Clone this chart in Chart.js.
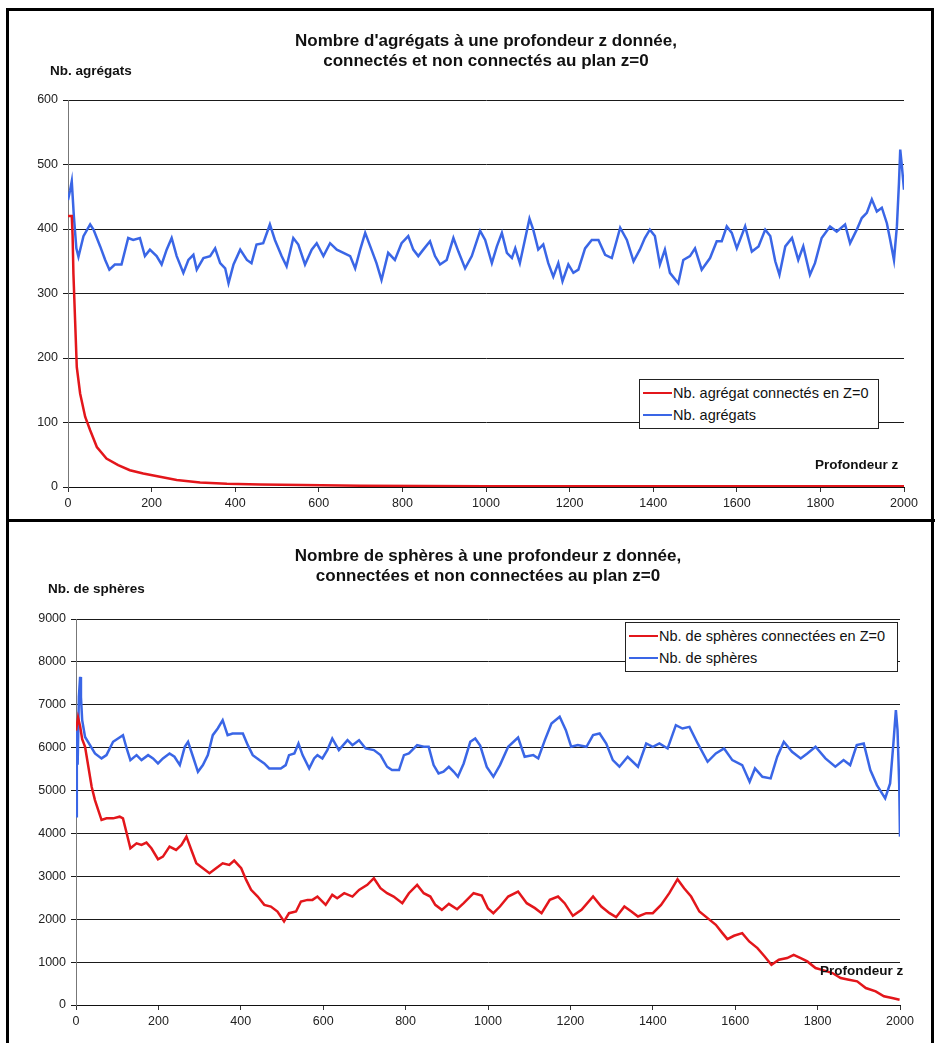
<!DOCTYPE html>
<html>
<head>
<meta charset="utf-8">
<script src="https://cdn.jsdelivr.net/npm/chart.js@4.4.1/dist/chart.umd.min.js"></script>
<style>
  body { margin: 0; background: #fff; font-family: "Liberation Sans", Arial, sans-serif; }
  #page { position: relative; width: 935px; height: 1043px; overflow: hidden; background: #fff; }
  .frame { position: absolute; left: 6px; top: 8px; width: 928px; height: 1060px; border: 3px solid #000; box-sizing: border-box; }
  .divider { position: absolute; left: 6px; top: 519px; width: 929px; height: 3px; background: #000; }
  .panel { position: absolute; left: 0; width: 935px; }
  .panel canvas { position: absolute; left: 0; top: 0; }
  .title { position: absolute; text-align: center; font-weight: bold; font-size: 17px; line-height: 20px; color: #111; }
  .ytitle, .xtitle { position: absolute; font-weight: bold; font-size: 13.5px; color: #111; white-space: nowrap; }
  .legend { position: absolute; background: #fff; border: 1px solid #222; font-size: 14.5px; color: #111; padding: 2px 6px 2px 3px; }
  .legend div { height: 22px; line-height: 22px; white-space: nowrap; }
  .legend span { display: inline-block; width: 29px; height: 2px; vertical-align: middle; margin-right: 1px; position: relative; top: -1px; }
</style>
</head>
<body>
<div id="page">
  <div class="frame"></div>
  <div class="divider"></div>

  <div class="panel" style="top:0;height:520px;">
    <canvas id="chartAgg" width="935" height="520"></canvas>
    <div class="title" style="left:68px;width:836px;top:31px;">Nombre d'agrégats à une profondeur z donnée,<br>connectés et non connectés au plan z=0</div>
    <div class="ytitle" style="left:50px;top:63px;">Nb. agrégats</div>
    <div class="xtitle" style="left:815px;top:457px;">Profondeur z</div>
    <div class="legend" style="left:639px;top:379px;width:229px;">
      <div><span style="background:#e3161b"></span>Nb. agrégat connectés en Z=0</div>
      <div><span style="background:#3a66e6"></span>Nb. agrégats</div>
    </div>
  </div>

  <div class="panel" style="top:521px;height:522px;">
    <canvas id="chartSph" width="935" height="522"></canvas>
    <div class="title" style="left:76px;width:824px;top:25px;">Nombre de sphères à une profondeur z donnée,<br>connectées et non connectées au plan z=0</div>
    <div class="ytitle" style="left:48px;top:60px;">Nb. de sphères</div>
    <div class="xtitle" style="left:820px;top:442px;">Profondeur z</div>
    <div class="legend" style="left:625px;top:101px;width:262px;">
      <div><span style="background:#e3161b"></span>Nb. de sphères connectées en Z=0</div>
      <div><span style="background:#3a66e6"></span>Nb. de sphères</div>
    </div>
  </div>
</div>

<script>
// x ticks (profondeur z)
const zTicks = [0, 200, 400, 600, 800, 1000, 1200, 1400, 1600, 1800, 2000];

// --- agrégats: total ---
const zAgg = [0, 5, 9, 14, 20, 25, 37, 53, 61, 77, 89, 99, 112, 128, 144, 156, 172, 184, 196, 212, 224, 236, 248, 260, 276, 288, 300, 308, 324, 340, 352, 364, 376, 384, 396, 412, 428, 439, 451, 467, 483, 495, 511, 523, 539, 551, 567, 583, 595, 611, 627, 643, 659, 675, 687, 699, 711, 726, 738, 750, 766, 782, 798, 814, 826, 838, 850, 866, 878, 890, 906, 922, 934, 950, 966, 986, 998, 1014, 1026, 1038, 1050, 1062, 1070, 1081, 1093, 1104, 1113, 1125, 1137, 1149, 1161, 1173, 1183, 1197, 1209, 1221, 1237, 1253, 1269, 1285, 1301, 1313, 1321, 1337, 1353, 1368, 1380, 1392, 1404, 1416, 1428, 1440, 1460, 1472, 1488, 1500, 1516, 1536, 1552, 1564, 1576, 1588, 1600, 1620, 1636, 1652, 1668, 1680, 1692, 1702, 1716, 1732, 1747, 1759, 1775, 1787, 1803, 1823, 1839, 1859, 1871, 1887, 1899, 1911, 1923, 1935, 1947, 1959, 1967, 1976, 1983, 1988, 1991, 1995, 2000];
const nbAgg = [445, 460, 474, 420, 370, 357, 389, 407, 399, 373, 352, 337, 345, 345, 386, 383, 386, 358, 368, 358, 345, 368, 386, 358, 332, 352, 360, 337, 355, 358, 370, 347, 339, 316, 345, 368, 352, 347, 376, 378, 407, 383, 358, 342, 386, 376, 345, 368, 378, 358, 378, 368, 363, 358, 339, 368, 394, 368, 347, 321, 363, 352, 378, 389, 368, 358, 368, 381, 358, 345, 352, 386, 365, 339, 358, 397, 383, 347, 373, 394, 363, 355, 370, 347, 383, 416, 399, 368, 376, 347, 326, 347, 319, 345, 332, 337, 370, 383, 383, 360, 355, 383, 402, 383, 350, 368, 386, 399, 389, 345, 368, 332, 316, 352, 358, 370, 337, 355, 381, 381, 404, 394, 370, 404, 365, 373, 399, 389, 350, 329, 373, 386, 352, 373, 329, 347, 386, 404, 396, 407, 378, 399, 417, 425, 446, 427, 433, 409, 383, 352, 404, 472, 523, 497, 461];

// --- agrégats connectés en Z=0 ---
const zAggConn = [0, 9, 11, 13, 17, 21, 29, 41, 53, 69, 92, 120, 148, 180, 220, 260, 316, 380, 460, 560, 700, 1000, 1500, 2000];
const nbAggConn = [420, 420, 390, 330, 258, 186, 145, 109, 88, 62, 44, 34, 26, 21, 16, 11, 7, 5, 4, 3, 2, 1, 1, 1];

// --- sphères: total ---
const zSph = [0, 2, 4, 7, 10, 12, 15, 22, 34, 46, 62, 74, 90, 102, 114, 123, 132, 147, 159, 175, 187, 199, 211, 227, 239, 252, 264, 272, 284, 296, 308, 320, 332, 344, 356, 368, 380, 393, 405, 417, 429, 445, 457, 469, 481, 497, 509, 517, 530, 540, 550, 566, 578, 586, 598, 610, 622, 638, 659, 671, 687, 703, 723, 739, 755, 767, 784, 796, 808, 828, 844, 856, 868, 880, 892, 905, 917, 927, 941, 957, 969, 981, 997, 1013, 1029, 1049, 1073, 1089, 1110, 1122, 1138, 1154, 1174, 1189, 1202, 1218, 1239, 1255, 1271, 1287, 1303, 1319, 1339, 1364, 1384, 1400, 1416, 1436, 1456, 1472, 1489, 1509, 1533, 1553, 1573, 1593, 1617, 1635, 1648, 1666, 1686, 1702, 1718, 1738, 1759, 1775, 1795, 1819, 1843, 1863, 1879, 1895, 1912, 1928, 1944, 1964, 1976, 1984, 1990, 1994, 1998, 2000];
const nbSph = [4400, 6400, 5600, 7180, 7650, 7180, 6640, 6250, 6060, 5865, 5750, 5826, 6137, 6214, 6292, 5981, 5710, 5826, 5710, 5826, 5749, 5632, 5749, 5865, 5788, 5594, 6020, 6137, 5788, 5438, 5594, 5826, 6292, 6447, 6641, 6292, 6331, 6331, 6331, 6059, 5826, 5710, 5632, 5516, 5516, 5516, 5594, 5826, 5865, 6098, 5826, 5516, 5749, 5826, 5749, 5943, 6214, 5943, 6175, 6059, 6175, 5981, 5943, 5826, 5555, 5477, 5477, 5826, 5865, 6059, 6020, 6020, 5594, 5400, 5438, 5555, 5438, 5322, 5632, 6137, 6214, 6050, 5550, 5322, 5594, 6020, 6237, 5788, 5826, 5749, 6175, 6563, 6719, 6408, 6020, 6059, 6020, 6292, 6331, 6098, 5710, 5555, 5788, 5555, 6098, 6020, 6098, 5981, 6525, 6447, 6486, 6098, 5671, 5865, 5981, 5710, 5594, 5206, 5516, 5322, 5283, 5788, 6137, 5904, 5749, 5865, 6020, 5749, 5555, 5710, 5594, 6059, 6098, 5477, 5128, 4818, 5167, 6098, 6874, 6408, 5167, 3926];

// --- sphères connectées en Z=0 ---
const zSphConn = [0, 5, 10, 15, 22, 30, 38, 46, 54, 62, 74, 90, 106, 114, 123, 132, 147, 159, 171, 183, 199, 211, 227, 243, 256, 268, 280, 292, 308, 324, 340, 356, 372, 384, 401, 413, 425, 441, 457, 473, 489, 505, 517, 534, 546, 562, 574, 586, 606, 622, 634, 651, 671, 687, 707, 723, 739, 755, 771, 792, 808, 828, 844, 860, 872, 888, 905, 925, 941, 965, 985, 1000, 1013, 1029, 1049, 1073, 1094, 1114, 1130, 1150, 1170, 1186, 1206, 1227, 1255, 1275, 1295, 1311, 1331, 1348, 1364, 1384, 1400, 1420, 1440, 1460, 1476, 1493, 1513, 1533, 1553, 1569, 1581, 1597, 1617, 1634, 1654, 1670, 1688, 1706, 1726, 1742, 1759, 1775, 1795, 1815, 1836, 1856, 1876, 1896, 1917, 1941, 1961, 1981, 1999];
const nbSphConn = [6400, 6700, 6500, 6200, 6020, 5555, 5089, 4779, 4546, 4313, 4352, 4352, 4391, 4352, 4003, 3654, 3770, 3732, 3786, 3654, 3398, 3460, 3693, 3615, 3732, 3926, 3615, 3305, 3189, 3072, 3189, 3305, 3266, 3367, 3189, 2917, 2684, 2529, 2335, 2296, 2180, 1947, 2141, 2180, 2413, 2451, 2451, 2529, 2335, 2568, 2490, 2607, 2529, 2684, 2801, 2956, 2723, 2607, 2529, 2374, 2607, 2801, 2607, 2529, 2335, 2219, 2358, 2234, 2374, 2607, 2550, 2250, 2141, 2296, 2529, 2645, 2374, 2258, 2141, 2451, 2529, 2374, 2079, 2219, 2529, 2296, 2141, 2048, 2296, 2180, 2064, 2141, 2141, 2335, 2607, 2933, 2723, 2529, 2180, 2025, 1870, 1676, 1536, 1614, 1676, 1482, 1327, 1148, 939, 1055, 1094, 1171, 1094, 1016, 861, 807, 745, 628, 590, 551, 396, 318, 202, 163, 124];

const RED = '#e3161b';
const BLUE = '#3a66e6';

function toPoints(xs, ys) {
    return xs.map((x, i) => ({ x: x, y: ys[i] }));
}

function makeChart(id, opts) {
    return new Chart(document.getElementById(id), {
        type: 'line',
        data: {
            datasets: [
                { label: opts.redLabel, data: toPoints(opts.redX, opts.redY), borderColor: RED, borderWidth: 2.5, pointRadius: 0, tension: 0 },
                { label: opts.blueLabel, data: toPoints(opts.blueX, opts.blueY), borderColor: BLUE, borderWidth: 2.5, pointRadius: 0, tension: 0 }
            ]
        },
        options: {
            responsive: false,
            animation: false,
            layout: { padding: opts.padding },
            plugins: { legend: { display: false }, tooltip: { enabled: false } },
            scales: {
                x: {
                    type: 'linear',
                    min: 0, max: 2000,
                    afterBuildTicks: (s) => { s.ticks = zTicks.map(v => ({ value: v })); },
                    afterFit: (s) => { s.height = 30; },
                    grid: { drawOnChartArea: false, drawTicks: true, tickLength: 5, color: '#333' },
                    border: { display: true, color: '#111', width: 1 },
                    ticks: { color: '#222', padding: 4, font: { family: 'Liberation Sans', size: 12.5 }, maxRotation: 0, callback: v => String(v) }
                },
                y: {
                    min: 0, max: opts.yMax,
                    ticks: { stepSize: opts.yStep, color: '#222', padding: 5, font: { family: 'Liberation Sans', size: 12.5 }, callback: v => String(v) },
                    afterFit: (s) => { s.width = opts.yWidth; },
                    grid: { color: '#1a1a1a', lineWidth: 1, tickLength: 5 },
                    border: { display: true, color: '#777', width: 1 }
                }
            }
        }
    });
}

makeChart('chartAgg', {
    redLabel: 'Nb. agrégat connectés en Z=0', redX: zAggConn, redY: nbAggConn,
    blueLabel: 'Nb. agrégats', blueX: zAgg, blueY: nbAgg,
    yMax: 600, yStep: 100, yWidth: 68,
    padding: { left: 0, top: 100, right: 31, bottom: 3 }
});

makeChart('chartSph', {
    redLabel: 'Nb. de sphères connectées en Z=0', redX: zSphConn, redY: nbSphConn,
    blueLabel: 'Nb. de sphères', blueX: zSph, blueY: nbSph,
    yMax: 9000, yStep: 1000, yWidth: 76,
    padding: { left: 0, top: 98, right: 35, bottom: 8 }
});
</script>
</body>
</html>
